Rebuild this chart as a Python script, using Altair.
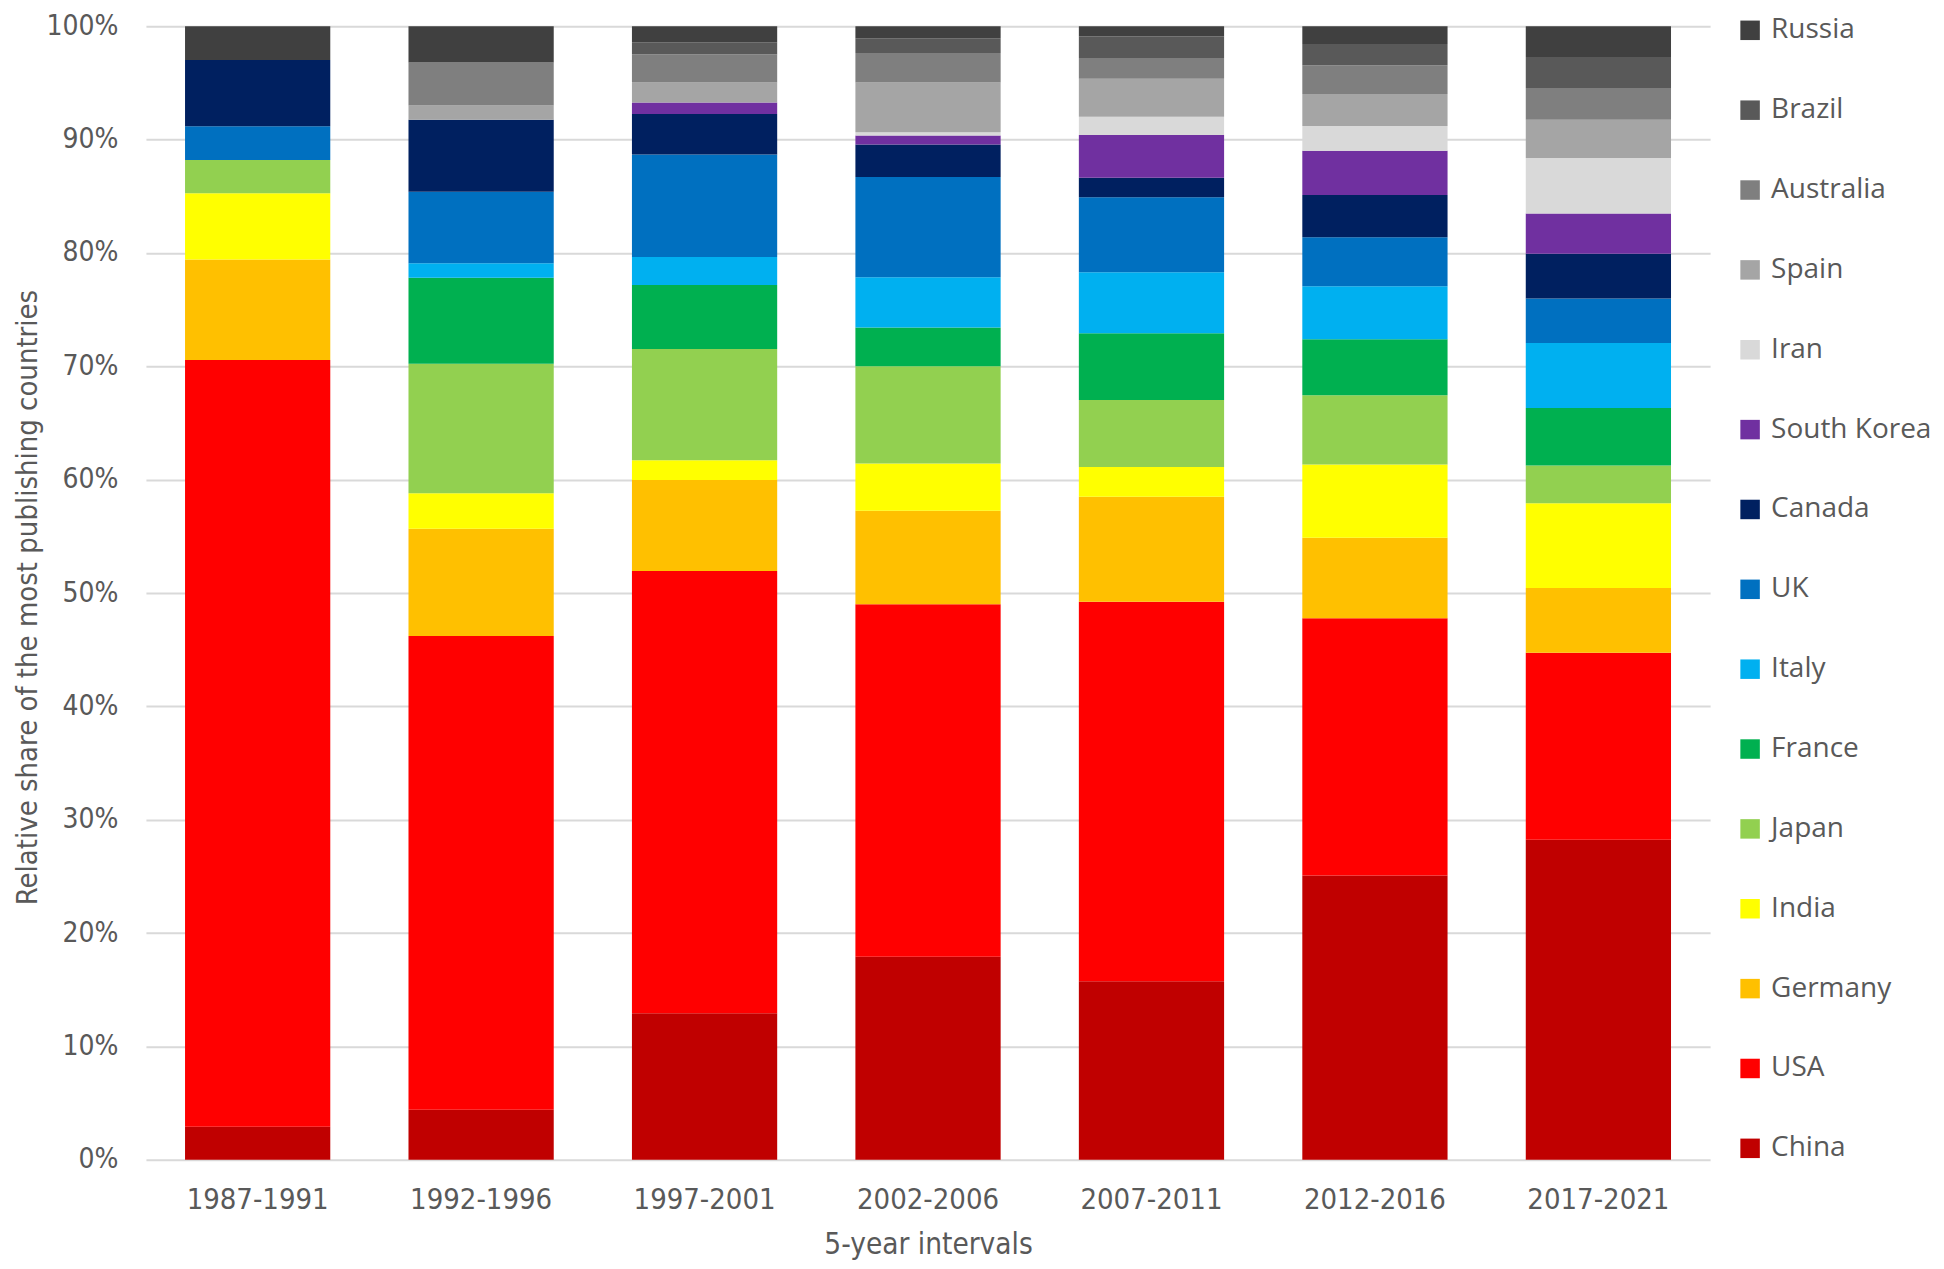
import altair as alt
import pandas as pd

intervals = ["1987-1991", "1992-1996", "1997-2001", "2002-2006", "2007-2011", "2012-2016", "2017-2021"]

# countries listed from the top of the legend to the bottom (bottom of stack = China)
countries = ["Russia", "Brazil", "Australia", "Spain", "Iran", "South Korea", "Canada", "UK",
             "Italy", "France", "Japan", "India", "Germany", "USA", "China"]
colors = ["#404040", "#595959", "#7f7f7f", "#a5a5a5", "#d9d9d9", "#7030a0", "#002060", "#0070c0",
          "#00b0f0", "#00b050", "#92d050", "#ffff00", "#ffc000", "#ff0000", "#c00000"]

# shares (%) per interval
china = [2.91, 4.40, 12.93, 17.90, 15.75, 25.07, 28.24]
usa = [67.66, 41.80, 39.01, 31.10, 33.48, 22.70, 16.50]
germany = [8.85, 9.46, 8.03, 8.26, 9.26, 7.10, 5.71]
india = [5.85, 3.14, 1.75, 4.16, 2.62, 6.47, 7.48]
japan = [2.94, 11.42, 9.81, 8.59, 5.91, 6.11, 3.32]
france = [0.0, 7.60, 5.65, 3.41, 5.91, 4.95, 5.07]
italy = [0.0, 1.28, 2.47, 4.43, 5.38, 4.66, 5.73]
uk = [2.97, 6.31, 9.05, 8.85, 6.61, 4.34, 3.93]
canada = [5.85, 6.35, 3.56, 2.88, 1.72, 3.72, 3.96]
south_korea = [0.0, 0.0, 1.02, 0.78, 3.78, 3.90, 3.55]
iran = [0.0, 0.0, 0.0, 0.30, 1.60, 2.19, 4.89]
spain = [0.0, 1.25, 1.77, 4.39, 3.35, 2.82, 3.38]
australia = [0.0, 3.79, 2.48, 2.59, 1.84, 2.53, 2.80]
brazil = [0.0, 0.0, 1.07, 1.31, 1.89, 1.87, 2.73]
russia = [2.97, 3.20, 1.40, 1.05, 0.90, 1.57, 2.71]

series = {
    "China": china, "USA": usa, "Germany": germany, "India": india, "Japan": japan,
    "France": france, "Italy": italy, "UK": uk, "Canada": canada, "South Korea": south_korea,
    "Iran": iran, "Spain": spain, "Australia": australia, "Brazil": brazil, "Russia": russia,
}

rows = []
for order_idx, (name, vals) in enumerate(series.items()):
    for interval, v in zip(intervals, vals):
        if v > 0:
            rows.append({"interval": interval, "country": name, "share": v, "ord": order_idx})
df = pd.DataFrame(rows)

axis_font = "Liberation Sans Narrow, DejaVu Sans Condensed, sans-serif"
text_font = "Open Sans, Noto Sans, sans-serif"
text_color = "#595959"

PLOT_H = 1134

chart = alt.Chart(df).mark_bar().encode(
    x=alt.X("interval:N", sort=intervals,
            scale=alt.Scale(paddingInner=0.35, paddingOuter=0.175),
            axis=alt.Axis(title="5-year intervals", labelAngle=0, labelFont=axis_font,
                          labelFontSize=29, labelColor=text_color, labelPadding=26,
                          titleFont=axis_font, titleFontSize=29.5, titleFontWeight="normal",
                          titleColor=text_color, titleY=85, titleBaseline="middle",
                          domain=False, ticks=False, grid=False)),
    y=alt.Y("share:Q", stack="normalize",
            scale=alt.Scale(domain=[0, 1], nice=False),
            axis=alt.Axis(title="Relative share of the most publishing countries", format=".0%",
                          values=[i / 10 for i in range(11)], labelFont=axis_font,
                          labelFontSize=28, labelColor=text_color, labelPadding=28,
                          titleFont=axis_font, titleFontSize=29,
                          titleFontWeight="normal", titleColor=text_color,
                          titleX=-118, titleY=PLOT_H / 2 + 4, titleAngle=-90, titleAlign="center",
                          titleBaseline="middle",
                          domain=False, ticks=False, grid=True, gridColor="#d9d9d9",
                          gridWidth=2)),
    color=alt.Color("country:N",
                    scale=alt.Scale(domain=countries, range=colors),
                    legend=alt.Legend(title=None, orient="none", legendX=1591, legendY=-10,
                                      symbolType="square", symbolSize=380,
                                      symbolStrokeWidth=0, labelFont=text_font,
                                      labelFontSize=28, labelColor=text_color,
                                      labelOffset=7, rowPadding=51.9, labelLimit=300)),
    order=alt.Order("ord:Q", sort="ascending"),
).properties(
    width=1565,
    height=PLOT_H,
    padding={"left": 138, "top": 18, "right": 226, "bottom": 101},
    autosize=alt.AutoSizeParams(type="none"),
).configure_view(stroke=None)

chart.save("out.html", embed_options={"renderer": "svg", "actions": False})
